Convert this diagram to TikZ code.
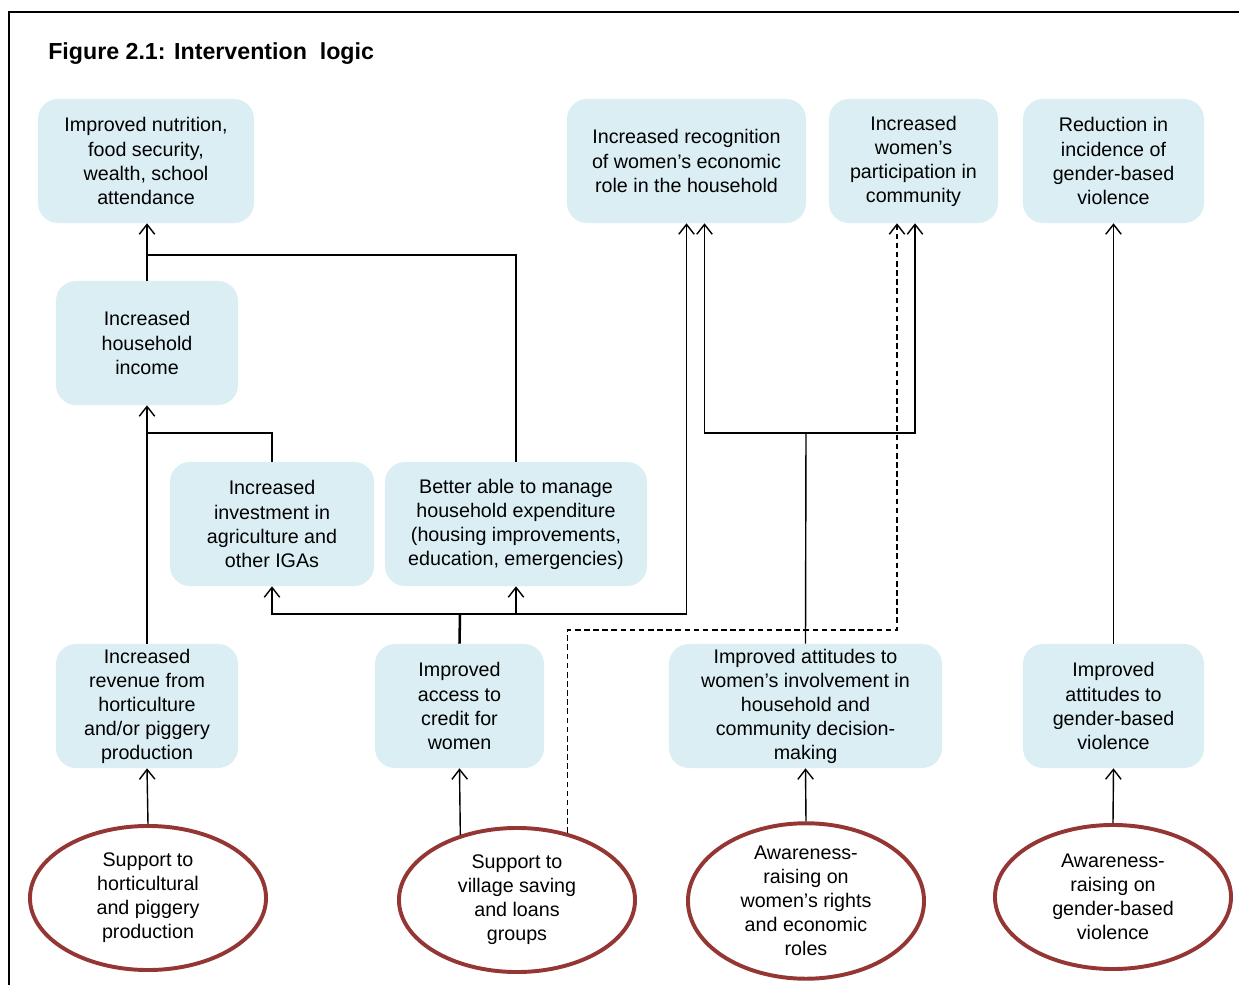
\documentclass[tikz,border=0pt]{standalone}
\usepackage{fontspec}
\setmainfont{Liberation Sans}
\usetikzlibrary{arrows.meta,shapes.geometric,calc}
\definecolor{boxblue}{HTML}{DAEEF3}
\definecolor{ovalred}{HTML}{943634}

\begin{document}
\begin{tikzpicture}[x=0.025cm,y=-0.025cm,
    result/.style={fill=boxblue, rounded corners=0.5cm, align=center, inner sep=0pt, minimum height=3.1cm, font=\fontsize{14}{17.1}\selectfont},
    activity/.style={ellipse, draw=ovalred, line width=2.8pt, align=center, inner sep=0pt, minimum width=5.9cm, minimum height=3.6cm, font=\fontsize{14}{17.1}\selectfont},
    link/.style={draw, line width=1pt, -{Straight Barb[length=7pt,width=11pt]}},
    plain/.style={draw, line width=1pt}]
        \useasboundingbox (0,0) rectangle (1239,985);
        \draw[line width=1.4pt] (9,985) -- (9,12) -- (1239,12);
        \node[anchor=west, inner sep=0pt, font=\fontsize{16.5}{19}\selectfont\bfseries] (title) at (48,54) {Figure 2.1: Intervention\ \ logic};
        % outcomes
        \node[result, minimum width=5.4cm] (nutrition) at (146,161) {Improved nutrition,\\food security,\\wealth, school\\attendance};
        \node[result, minimum width=5.975cm] (recognition) at (686.5,161) {Increased recognition\\of women’s economic\\role in the household};
        \node[result, minimum width=4.225cm] (participation) at (913.5,161) {Increased\\women’s\\participation in\\community};
        \node[result, minimum width=4.525cm] (gbvdrop) at (1113.5,161) {Reduction in\\incidence of\\gender-based\\violence};
        \node[result, minimum width=4.55cm] (income) at (147,343) {Increased\\household\\income};
        \node[result, minimum width=5.1cm] (investment) at (272,524) {Increased\\investment in\\agriculture and\\other IGAs};
        \node[result, minimum width=6.55cm] (expenditure) at (516,524) {Better able to manage\\household expenditure\\(housing improvements,\\education, emergencies)};
        \node[result, minimum width=4.55cm] (revenue) at (147,706) {Increased\\revenue from\\horticulture\\and/or piggery\\production};
        \node[result, minimum width=4.225cm] (credit) at (459.5,706) {Improved\\access to\\credit for\\women};
        \node[result, minimum width=6.825cm] (attitudes) at (805.5,706) {Improved attitudes to\\women’s involvement in\\household and\\community decision-\\making};
        \node[result, minimum width=4.525cm] (gbvview) at (1113.5,706) {Improved\\attitudes to\\gender-based\\violence};
        % activities
        \node[activity] (farming) at (148,898) {Support to\\horticultural\\and piggery\\production};
        \node[activity] (savings) at (517,900) {Support to\\village saving\\and loans\\groups};
        \node[activity] (rights) at (806,901) {Awareness-\\raising on\\women’s rights\\and economic\\roles};
        \node[activity] (gbvtalk) at (1113,897) {Awareness-\\raising on\\gender-based\\violence};
        % junctions
        \coordinate (incjoin) at (147,433);
        \coordinate (nutjoin) at (147,255);
        \coordinate (creditjoin) at (460,614);
        \coordinate (attjoin) at (806,433);
        \coordinate (dashjoin) at (897,630);
        % links
        \draw[link] (farming.north) -- (revenue.south);
        \draw[link] (savings.131) -- (credit.south);
        \draw[link] (rights.north) -- (attitudes.south);
        \draw[link] (gbvtalk.north) -- (gbvview.south);
        \draw[link] (revenue.north) -- (income.south);
        \draw[plain] (investment.north) |- (incjoin);
        \draw[link] (income.north) -- (income.north |- nutrition.south);
        \draw[plain] (expenditure.north) |- (nutjoin);
        \draw[plain, line width=1.8pt] (credit.north) -- (creditjoin);
        \draw[link] (creditjoin) -| (investment.south);
        \draw[link] (creditjoin) -| (expenditure.south);
        \draw[link] (creditjoin) -| (recognition.south);
        \draw[plain] (attitudes.north) -- (attjoin);
        \draw[link] (attjoin) -| ($(recognition.south)+(18,0)$);
        \draw[link] (attjoin) -| ($(participation.south)+(1.5,0)$);
        \draw[link, dash pattern=on 4pt off 2.5pt] (savings.53) |- (dashjoin) -- (dashjoin |- participation.south);
        \draw[link] (gbvview.north) -- (gbvdrop.south);
    \end{tikzpicture}
\end{document}
